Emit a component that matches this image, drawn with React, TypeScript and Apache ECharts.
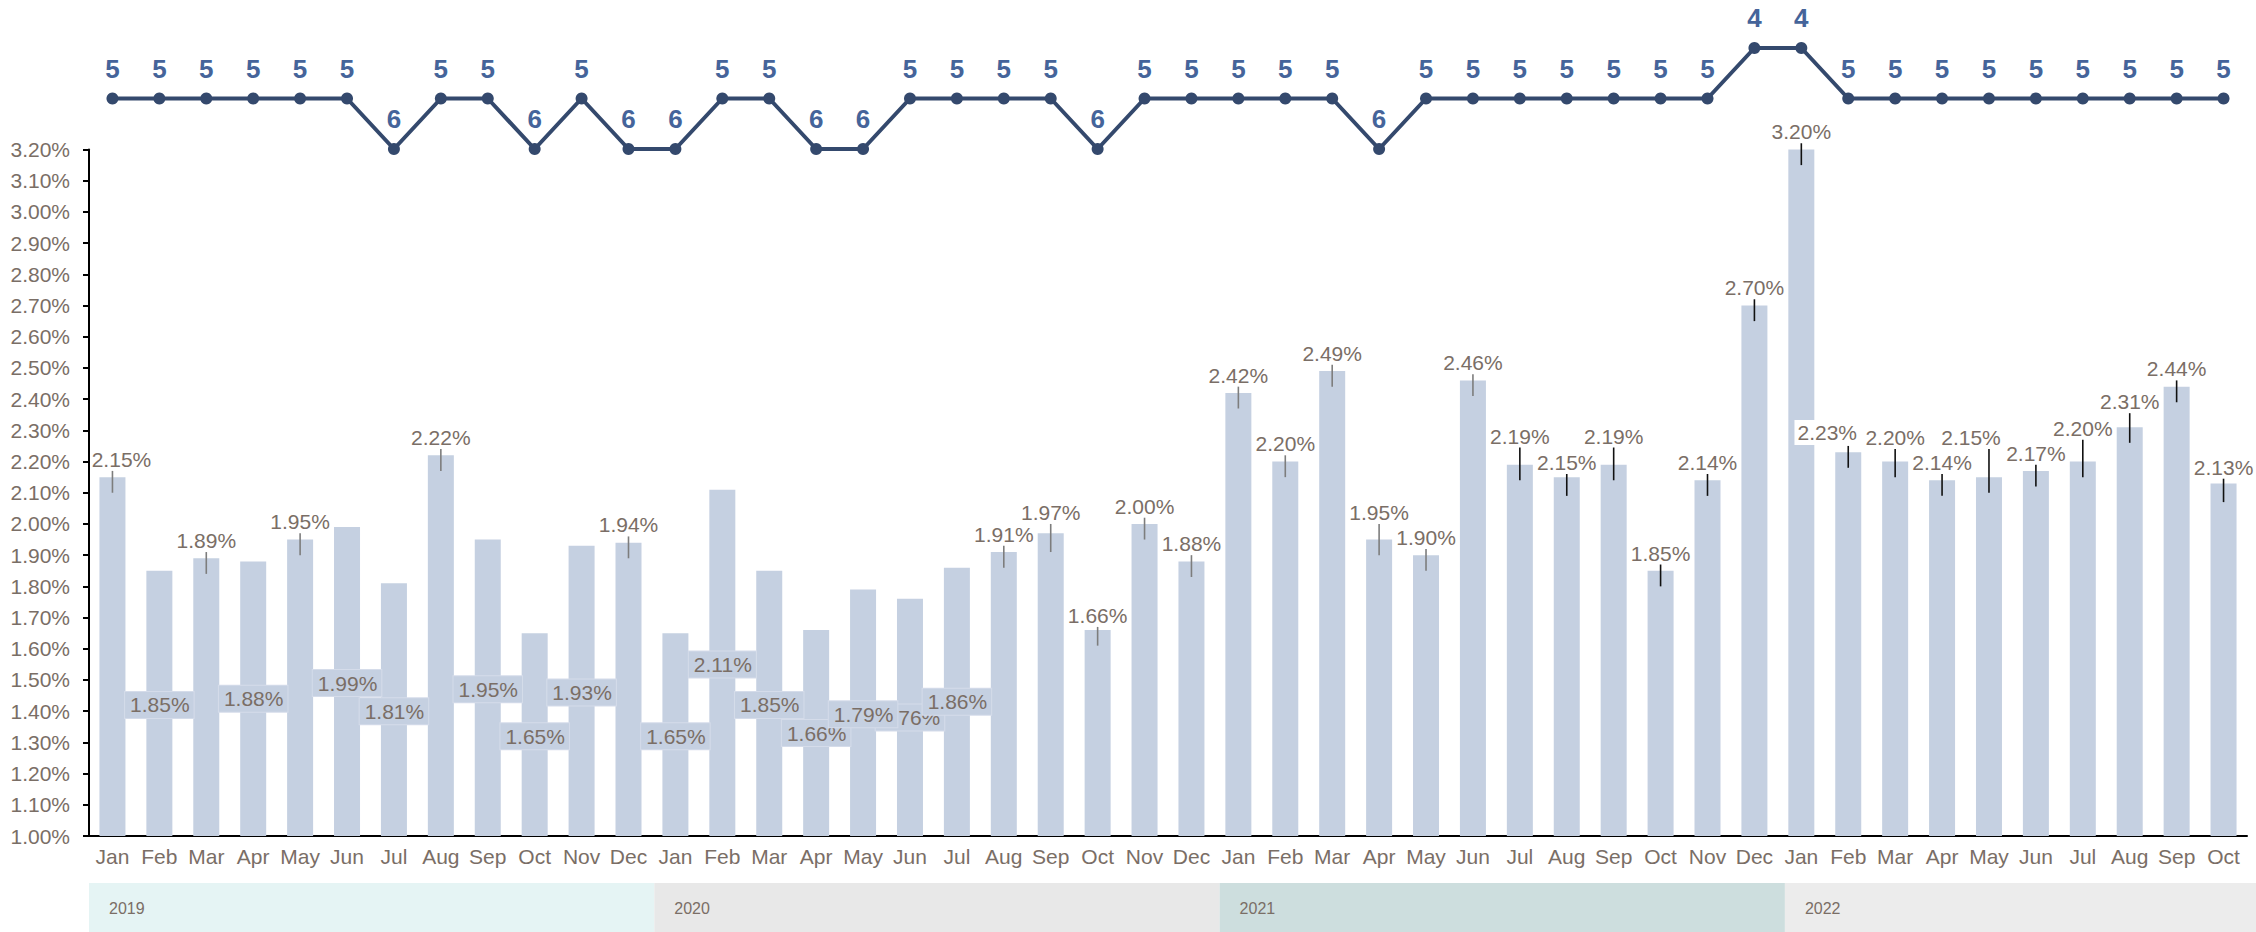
import React, { useEffect, useRef } from "react";
import * as echarts from "echarts";

// ---------- data ----------
const monthLabels = [
  "Jan", "Feb", "Mar", "Apr", "May", "Jun", "Jul", "Aug", "Sep", "Oct", "Nov", "Dec",
  "Jan", "Feb", "Mar", "Apr", "May", "Jun", "Jul", "Aug", "Sep", "Oct", "Nov", "Dec",
  "Jan", "Feb", "Mar", "Apr", "May", "Jun", "Jul", "Aug", "Sep", "Oct", "Nov", "Dec",
  "Jan", "Feb", "Mar", "Apr", "May", "Jun", "Jul", "Aug", "Sep", "Oct",
];

const years = ["2019", "2020", "2021", "2022"];
const yearMonthCounts = [12, 12, 12, 10];

// monthly rate (%)
const rateValues = [
  2.15, 1.85, 1.89, 1.88, 1.95, 1.99, 1.81, 2.22, 1.95, 1.65, 1.93, 1.94,
  1.65, 2.11, 1.85, 1.66, 1.79, 1.76, 1.86, 1.91, 1.97, 1.66, 2.0, 1.88,
  2.42, 2.2, 2.49, 1.95, 1.9, 2.46, 2.19, 2.15, 2.19, 1.85, 2.14, 2.7,
  3.2, 2.23, 2.2, 2.14, 2.15, 2.17, 2.2, 2.31, 2.44, 2.13,
];

// error bar upper / lower ends (%), null = no error bar
const errUpper = [
  2.17, null, 1.91, null, 1.97, null, null, 2.24, null, null, null, 1.96,
  null, null, null, null, null, null, null, 1.93, 2.0, 1.67, 2.02, 1.9,
  2.44, 2.22, 2.51, 2.0, 1.92, 2.48, 2.245, 2.16, 2.245, 1.87, 2.16, 2.72,
  3.22, 2.25, 2.24, 2.16, 2.24, 2.19, 2.27, 2.355, 2.46, 2.145,
];
const errLower = [
  2.1, null, 1.84, null, 1.9, null, null, 2.17, null, null, null, 1.89,
  null, null, null, null, null, null, null, 1.86, 1.91, 1.61, 1.95, 1.83,
  2.37, 2.15, 2.44, 1.9, 1.85, 2.41, 2.14, 2.09, 2.14, 1.8, 2.09, 2.65,
  3.15, 2.18, 2.15, 2.09, 2.1, 2.12, 2.15, 2.26, 2.39, 2.07,
];

// where the boxed value labels sit (axis value, %), null = label above error bar
const boxLabelAt = [
  null, 1.42, null, 1.44, null, 1.49, 1.4, null, 1.47, 1.32, 1.46, null,
  1.32, 1.55, 1.42, 1.33, 1.39, 1.38, 1.43, null, null, null, null, null,
  null, null, null, null, null, null, null, null, null, null, null, null,
  null, null, null, null, null, null, null, null, null, null,
];

// top line series
const headcount = [
  5, 5, 5, 5, 5, 5, 6, 5, 5, 6, 5, 6,
  6, 5, 5, 6, 6, 5, 5, 5, 5, 6, 5, 5,
  5, 5, 5, 6, 5, 5, 5, 5, 5, 5, 5, 4,
  4, 5, 5, 5, 5, 5, 5, 5, 5, 5,
];

// ---------- styles ----------
const TEXT = "#7a6e66";
const FONT = "'Liberation Sans', Arial, Helvetica, sans-serif";
const BAR = "#c5d0e1";
const bandColors = ["#e5f4f4", "#e8e8e8", "#cddede", "#ececec"];
const labelNudge: Record<number, number> = { 0: 9, 37: -21, 40: -18 };
const whiteBgLabels: Record<number, boolean> = { 37: true };

export default function App() {
  const ref = useRef<HTMLDivElement>(null);

  useEffect(() => {
    if (!ref.current) return;
    const chart = echarts.init(ref.current, null, { renderer: "svg" });
    const n = monthLabels.length;

    const errData: number[][] = [];
    rateValues.forEach((_, i) => {
      if (errUpper[i] != null && errLower[i] != null) {
        errData.push([i, errLower[i] as number, errUpper[i] as number]);
      }
    });
    const boxData: number[][] = [];
    rateValues.forEach((_, i) => {
      if (boxLabelAt[i] != null) boxData.push([i, boxLabelAt[i] as number]);
    });
    // lower boxes drawn first so higher ones sit on top
    boxData.sort((a, b) => a[1] - b[1]);

    let start = 0;
    const bandData = years.map((_, k) => {
      const d = [start, start + yearMonthCounts[k], k];
      start += yearMonthCounts[k];
      return d;
    });

    chart.setOption({
      animation: false,
      grid: [
        { left: 89, right: 9, top: 149.5, bottom: 96 },
        { left: 89, right: 9, top: 48, height: 101 },
        { left: 89, right: 0, top: 883, bottom: 0 },
      ],
      xAxis: [
        {
          type: "category",
          gridIndex: 0,
          data: monthLabels,
          axisLine: { lineStyle: { color: "#000", width: 2 } },
          axisTick: { show: false },
          axisLabel: { color: TEXT, fontSize: 21, fontFamily: FONT, margin: 10, interval: 0 },
        },
        { type: "category", gridIndex: 1, data: monthLabels, show: false },
        { type: "value", gridIndex: 2, min: 0, max: n, show: false },
      ],
      yAxis: [
        {
          type: "value",
          gridIndex: 0,
          min: 1,
          max: 3.2,
          interval: 0.1,
          axisLine: { show: true, lineStyle: { color: "#000", width: 2 } },
          axisTick: { show: true, length: 6, lineStyle: { color: "#000", width: 2 } },
          splitLine: { show: false },
          axisLabel: {
            color: TEXT,
            fontSize: 21,
            fontFamily: FONT,
            margin: 19,
            formatter: (v: number) => v.toFixed(2) + "%",
          },
        },
        { type: "value", gridIndex: 1, min: 4, max: 6, inverse: true, show: false },
        { type: "value", gridIndex: 2, min: 0, max: 1, show: false },
      ],
      series: [
        {
          type: "bar",
          xAxisIndex: 0,
          yAxisIndex: 0,
          data: rateValues,
          barWidth: 26,
          itemStyle: { color: BAR },
        },
        {
          type: "custom",
          xAxisIndex: 0,
          yAxisIndex: 0,
          data: errData,
          encode: { x: 0, y: [1, 2] },
          z: 3,
          renderItem: (_params: any, api: any) => {
            const i = api.value(0);
            const lo = api.coord([i, api.value(1)]);
            const hi = api.coord([i, api.value(2)]);
            const dark = i >= 30;
            const dx = labelNudge[i] ?? 0;
            const text = rateValues[i].toFixed(2) + "%";
            const bg = whiteBgLabels[i];
            return {
              type: "group",
              children: [
                {
                  type: "line",
                  shape: { x1: lo[0], y1: lo[1], x2: hi[0], y2: hi[1] },
                  style: { stroke: dark ? "#111111" : "#7d7d7d", lineWidth: 1.6 },
                },
                {
                  type: "text",
                  x: hi[0] + dx,
                  y: hi[1] - 1,
                  style: {
                    text,
                    fill: TEXT,
                    fontSize: 21,
                    fontFamily: FONT,
                    align: "center",
                    textAlign: "center",
                    verticalAlign: "bottom",
                    textVerticalAlign: "bottom",
                    backgroundColor: bg ? "#ffffff" : undefined,
                    padding: bg ? [2, 3, 2, 3] : 0,
                  },
                },
              ],
            };
          },
        },
        {
          type: "custom",
          xAxisIndex: 0,
          yAxisIndex: 0,
          data: boxData,
          encode: { x: 0, y: 1 },
          z: 4,
          renderItem: (_params: any, api: any) => {
            const i = api.value(0);
            const p = api.coord([i, api.value(1)]);
            return {
              type: "text",
              x: p[0],
              y: p[1],
              style: {
                text: rateValues[i].toFixed(2) + "%",
                fill: TEXT,
                fontSize: 21,
                fontFamily: FONT,
                align: "center",
                textAlign: "center",
                verticalAlign: "middle",
                textVerticalAlign: "middle",
                backgroundColor: BAR,
                borderColor: "#d5dcea",
                borderWidth: 1,
                padding: [3, 4, 2, 5],
              },
            };
          },
        },
        {
          type: "line",
          xAxisIndex: 1,
          yAxisIndex: 1,
          data: headcount,
          symbol: "circle",
          symbolSize: 12,
          lineStyle: { color: "#34496d", width: 4 },
          itemStyle: { color: "#34496d" },
          label: {
            show: true,
            position: "top",
            distance: 11,
            color: "#45649a",
            fontSize: 26,
            fontWeight: "bold",
            fontFamily: FONT,
          },
        },
        {
          type: "custom",
          xAxisIndex: 2,
          yAxisIndex: 2,
          data: bandData,
          encode: { x: [0, 1] },
          renderItem: (_params: any, api: any) => {
            const s = api.coord([api.value(0), 1]);
            const e = api.coord([api.value(1), 0]);
            const k = api.value(2);
            return {
              type: "group",
              children: [
                {
                  type: "rect",
                  shape: { x: s[0], y: s[1], width: e[0] - s[0], height: e[1] - s[1] },
                  style: { fill: bandColors[k] },
                },
                {
                  type: "text",
                  x: s[0] + 20,
                  y: (s[1] + e[1]) / 2 + 1,
                  style: {
                    text: years[k],
                    fill: TEXT,
                    fontSize: 16,
                    fontFamily: FONT,
                    align: "left",
                    textAlign: "left",
                    verticalAlign: "middle",
                    textVerticalAlign: "middle",
                  },
                },
              ],
            };
          },
        },
      ],
    });

    return () => {
      chart.dispose();
    };
  }, []);

  return (
    <div
      ref={ref}
      style={{ position: "fixed", left: 0, top: 0, width: 2256, height: 932, background: "#fff" }}
    />
  );
}
